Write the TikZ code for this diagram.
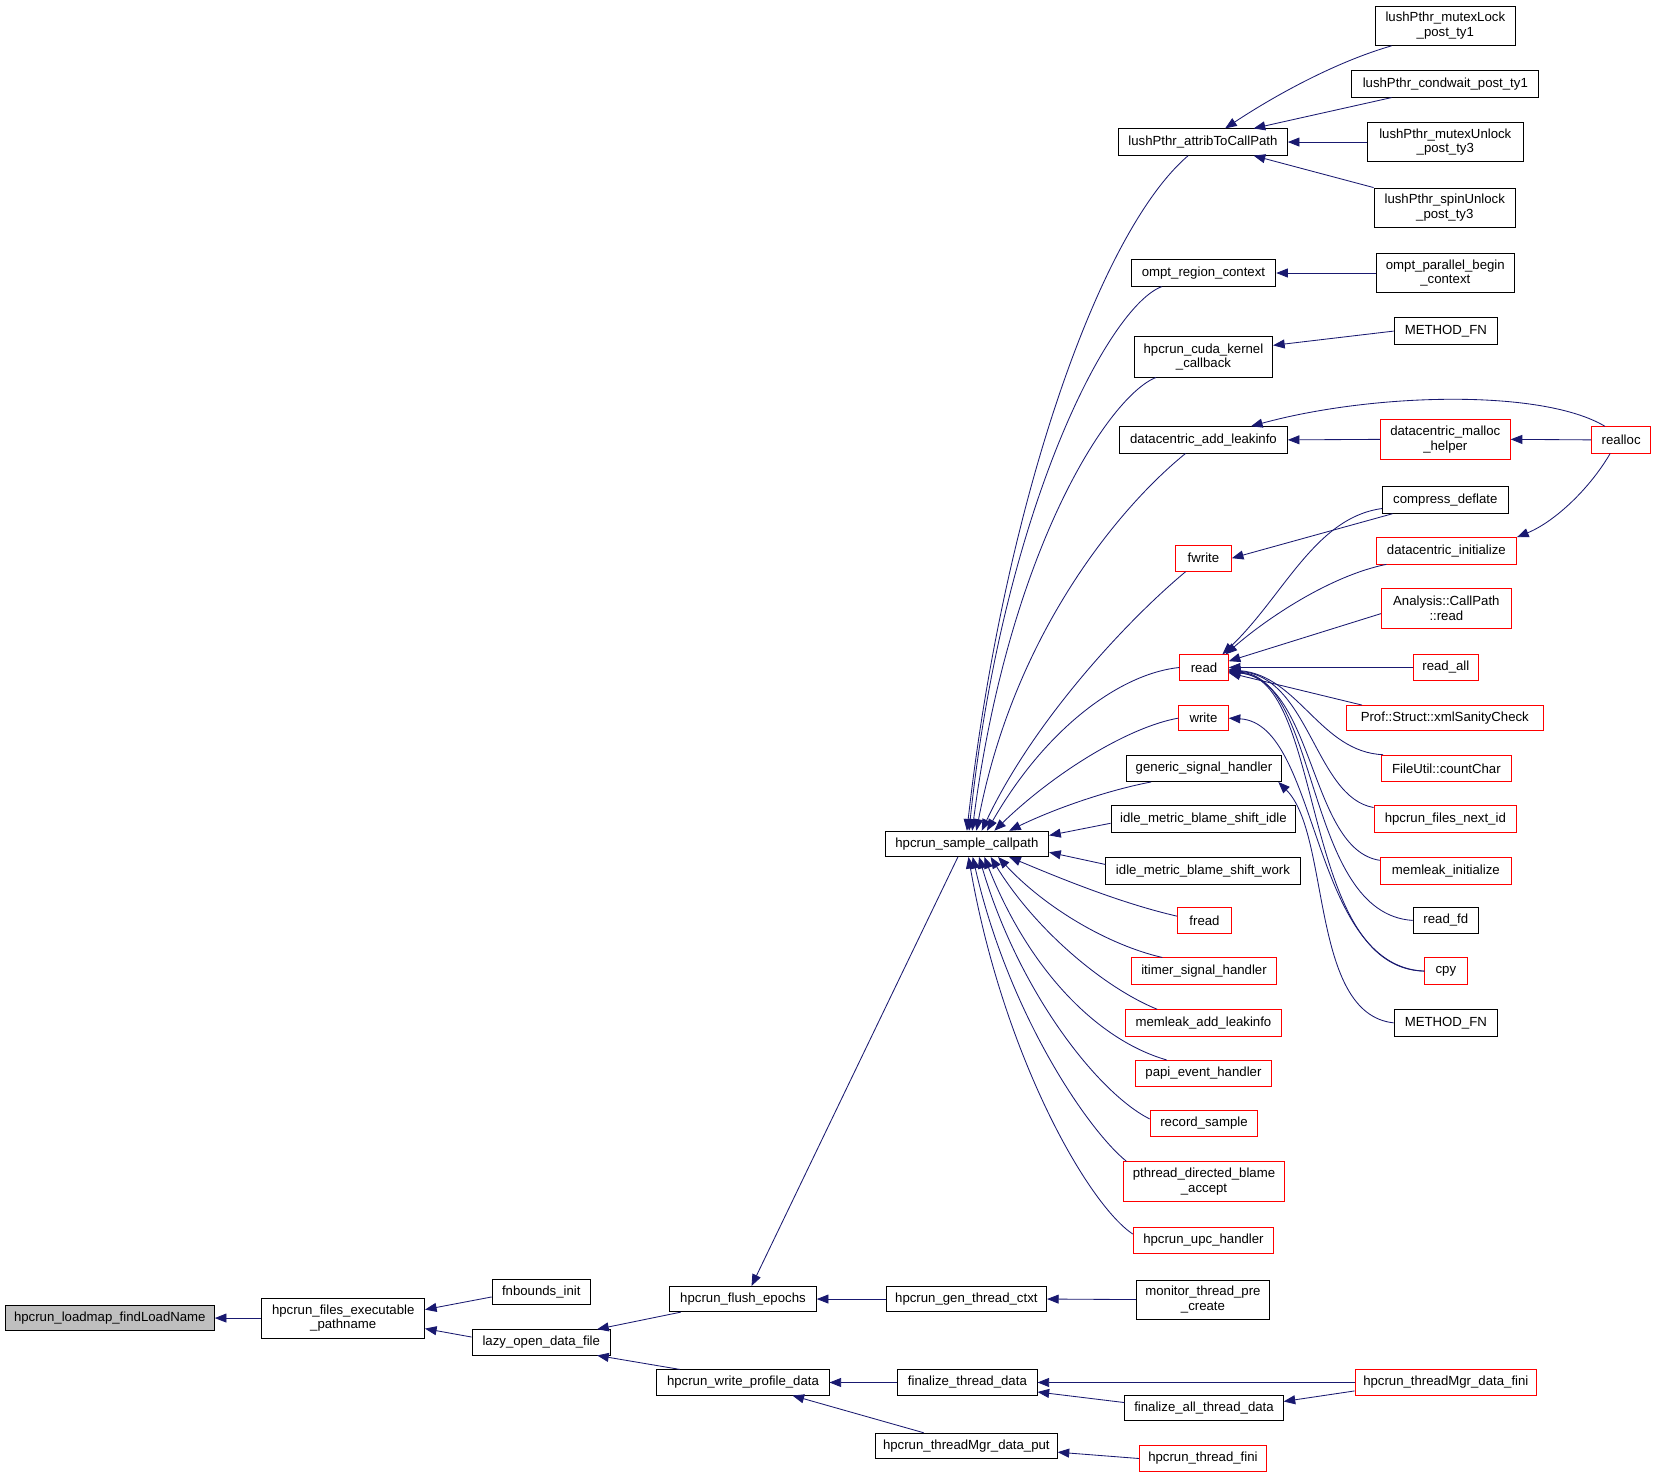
\documentclass[tikz,border=0pt]{standalone}
\usepackage{fontspec}
\setmainfont{Liberation Sans}
\usetikzlibrary{arrows.meta}
\definecolor{navy}{HTML}{191970}
\definecolor{boxred}{HTML}{FF0000}
\definecolor{rootgray}{HTML}{BFBFBF}
\newcommand\myfs{\fontsize{12.5}{14}\selectfont}
\newcommand\mybox[7]{\node[#2, minimum width={(#5)-(#3)}, minimum height={(#6)-(#4)}] (#1) at ({((#3)+(#5))/2},{((#4)+(#6))/2}) {#7};}
\tikzset{
 fbox/.style={draw=black, line width=0.8pt, inner sep=0pt, align=center, font=\myfs, fill=white},
 rbox/.style={fbox, draw=boxred},
 gbox/.style={fbox, fill=rootgray},
 conn/.style={draw=navy, line width=0.8pt, arrows={Triangle[length=11pt,width=8.5pt]-}},
}
\begin{document}
\begin{tikzpicture}[x=1pt,y=-1pt]
\useasboundingbox[fill=white] (0,0) rectangle (1568,1400.5);
% bottom chain
\mybox{loadmap}{gbox}{5}{1236}{203}{1260}{hpcrun\_loadmap\_findLoadName}
\mybox{execpath}{fbox}{248}{1229}{402}{1267}{hpcrun\_files\_executable\\\_pathname}
\mybox{fnbounds}{fbox}{466}{1211}{559}{1235}{fnbounds\_init}
\mybox{lazy}{fbox}{447}{1259}{578}{1283}{lazy\_open\_data\_file}
\mybox{flush}{fbox}{634}{1218}{773}{1242}{hpcrun\_flush\_epochs}
\mybox{writeprof}{fbox}{622}{1297}{785}{1321}{hpcrun\_write\_profile\_data}
\mybox{genctxt}{fbox}{839}{1218}{991}{1242}{hpcrun\_gen\_thread\_ctxt}
\mybox{monitor}{fbox}{1076}{1212}{1202}{1249}{monitor\_thread\_pre\\\_create}
\mybox{finthr}{fbox}{850}{1297}{982}{1321}{finalize\_thread\_data}
\mybox{finall}{fbox}{1065}{1321}{1215}{1345}{finalize\_all\_thread\_data}
\mybox{mgrfini}{rbox}{1283}{1297}{1455}{1321}{hpcrun\_threadMgr\_data\_fini}
\mybox{mgrput}{fbox}{829}{1357}{1001}{1381}{hpcrun\_threadMgr\_data\_put}
\mybox{thrfini}{rbox}{1079}{1369}{1199}{1393}{hpcrun\_thread\_fini}
\mybox{sample}{fbox}{838}{787}{993}{811}{hpcrun\_sample\_callpath}
% middle column
\mybox{lushattr}{fbox}{1059}{122}{1219}{147}{lushPthr\_attribToCallPath}
\mybox{omptreg}{fbox}{1071}{246}{1208}{271}{ompt\_region\_context}
\mybox{cuda}{fbox}{1074}{319}{1205}{357}{hpcrun\_cuda\_kernel\\\_callback}
\mybox{dcadd}{fbox}{1060}{404}{1219}{429}{datacentric\_add\_leakinfo}
\mybox{fwrite}{rbox}{1113}{516}{1166}{541}{fwrite}
\mybox{read}{rbox}{1117}{620}{1163}{644}{read}
\mybox{write}{rbox}{1116}{668}{1163}{692}{write}
\mybox{generic}{fbox}{1067}{715}{1213}{740}{generic\_signal\_handler}
\mybox{idleidle}{fbox}{1052}{763}{1227}{788}{idle\_metric\_blame\_shift\_idle}
\mybox{idlework}{fbox}{1047}{812}{1231}{837}{idle\_metric\_blame\_shift\_work}
\mybox{fread}{rbox}{1115}{859}{1166}{884}{fread}
\mybox{itimer}{rbox}{1071}{907}{1209}{932}{itimer\_signal\_handler}
\mybox{memadd}{rbox}{1066}{956}{1213}{981}{memleak\_add\_leakinfo}
\mybox{papi}{rbox}{1075}{1004}{1204}{1029}{papi\_event\_handler}
\mybox{record}{rbox}{1089}{1051}{1191}{1076}{record\_sample}
\mybox{pthread}{rbox}{1064}{1100}{1216}{1138}{pthread\_directed\_blame\\\_accept}
\mybox{upc}{rbox}{1073}{1162}{1206}{1187}{hpcrun\_upc\_handler}
% right column
\mybox{mutexlock}{fbox}{1302}{6}{1435}{43}{lushPthr\_mutexLock\\\_post\_ty1}
\mybox{condwait}{fbox}{1280}{67}{1457}{92}{lushPthr\_condwait\_post\_ty1}
\mybox{mutexunlock}{fbox}{1295}{116}{1442}{153}{lushPthr\_mutexUnlock\\\_post\_ty3}
\mybox{spinunlock}{fbox}{1301}{178}{1435}{215}{lushPthr\_spinUnlock\\\_post\_ty3}
\mybox{omptpar}{fbox}{1303}{240}{1434}{277}{ompt\_parallel\_begin\\\_context}
\mybox{methodA}{fbox}{1320}{301}{1418}{326}{METHOD\_FN}
\mybox{dcmalloc}{rbox}{1307}{397}{1430}{435}{datacentric\_malloc\\\_helper}
\mybox{realloc}{rbox}{1507}{404}{1563}{429}{realloc}
\mybox{compress}{fbox}{1309}{461}{1428}{486}{compress\_deflate}
\mybox{dcinit}{rbox}{1303}{509}{1436}{534}{datacentric\_initialize}
\mybox{analysis}{rbox}{1308}{557}{1431}{595}{Analysis::CallPath\\::read}
\mybox{readall}{rbox}{1338}{620}{1400}{644}{read\_all}
\mybox{xmlsanity}{rbox}{1275}{668}{1461}{692}{Prof::Struct::xmlSanityCheck}
\mybox{countchar}{rbox}{1308}{715}{1431}{740}{FileUtil::countChar}
\mybox{nextid}{rbox}{1301}{763}{1436}{788}{hpcrun\_files\_next\_id}
\mybox{meminit}{rbox}{1307}{812}{1431}{837}{memleak\_initialize}
\mybox{readfd}{fbox}{1338}{859}{1400}{884}{read\_fd}
\mybox{cpy}{rbox}{1349}{907}{1389}{932}{cpy}
\mybox{methodB}{fbox}{1320}{956}{1418}{981}{METHOD\_FN}

% ---- edges: bottom
\draw[conn] (loadmap.east) -- (execpath.west);
\draw[conn] ([yshift=8pt]execpath.east) -- ([yshift=-5pt]fnbounds.west);
\draw[conn] ([yshift=-10pt]execpath.east) -- ([yshift=5pt]lazy.west);
\draw[conn] ([xshift=-13pt]lazy.north east) -- ([xshift=11pt]flush.south west);
\draw[conn] ([xshift=-13pt]lazy.south east) -- ([xshift=22pt]writeprof.north west);
\draw[conn] (flush.east) -- (genctxt.west);
\draw[conn] (genctxt.east) -- (monitor.west);
\draw[conn] (writeprof.east) -- (finthr.west);
\draw[conn] ([xshift=-35pt]writeprof.south east) -- ([xshift=46pt]mgrput.north west);
\draw[conn] (finthr.east) -- (mgrfini.west);
\draw[conn] ([yshift=-9pt]finthr.east) -- ([yshift=5pt]finall.west);
\draw[conn] ([yshift=6pt]finall.east) -- ([yshift=-8pt]mgrfini.west);
\draw[conn] ([yshift=-6pt]mgrput.east) -- (thrfini.west);
\draw[conn] ([xshift=78pt]flush.north west) -- ([xshift=-8.5pt]sample.south);

% ---- edges: lush etc
\draw[conn] ([xshift=21pt]lushattr.north) .. controls (1200,95) and (1260,60) .. ([xshift=16pt]mutexlock.south west);
\draw[conn] ([xshift=48pt]lushattr.north) -- ([xshift=38pt]condwait.south west);
\draw[conn] (lushattr.east) -- (mutexunlock.west);
\draw[conn] ([xshift=48pt]lushattr.south) -- (spinunlock.north west);
\draw[conn] (omptreg.east) -- (omptpar.west);
\draw[conn] ([yshift=11pt]cuda.east) -- (methodA.west);
\draw[conn] (dcadd.east) -- (dcmalloc.west);
\draw[conn] (dcmalloc.east) -- (realloc.west);
\draw[conn] ([xshift=45pt]dcadd.north) .. controls (1300,372) and (1460,368) .. ([xshift=13pt]realloc.north west);
\draw[conn] (dcinit.north east) .. controls (1472,494) and (1505,463) .. ([xshift=18pt]realloc.south west);
\draw[conn] (fwrite.east) -- ([xshift=10pt]compress.south west);
\draw[conn] ([xshift=-6pt]read.north east) .. controls (1215,565) and (1245,490) .. ([yshift=-8pt]compress.west);
\draw[conn] ([xshift=-3pt]read.north east) .. controls (1200,585) and (1260,545) .. ([xshift=10pt]dcinit.south west);
\draw[conn] ([yshift=6pt]read.east) -- ([yshift=-5pt]analysis.west);
\draw[conn] (read.east) -- (readall.west);
\draw[conn] ([yshift=-5pt]read.east) -- ([xshift=15pt]xmlsanity.north west);
\draw[conn] ([yshift=-2pt]read.east) .. controls (1230,640) and (1250,712) .. ([xshift=2pt]countchar.north west);
\draw[conn] ([yshift=-3pt]read.east) .. controls (1240,640) and (1245,755) .. ([yshift=-2pt]nextid.north west);
\draw[conn] ([yshift=-4pt]read.east) .. controls (1245,645) and (1240,805) .. ([yshift=-3pt]meminit.north west);
\draw[conn] ([yshift=-4pt]read.east) .. controls (1250,640) and (1235,865) .. (readfd.west);
\draw[conn] ([yshift=-5pt]read.east) .. controls (1255,640) and (1230,917) .. (cpy.west);
\draw[conn] (write.east) .. controls (1250,685) and (1240,915) .. (cpy.west);
\draw[conn] ([xshift=-3pt]generic.south east) .. controls (1260,790) and (1240,960) .. (methodB.west);

% ---- edges into hpcrun_sample_callpath
\draw[conn] (sample.north) .. controls (950,480) and (1040,220) .. ([xshift=-14pt]lushattr.south);
\draw[conn] ([xshift=2pt]sample.north) .. controls (950,480) and (1050,290) .. ([xshift=-39.5pt]omptreg.south);
\draw[conn] ([xshift=5pt]sample.north) .. controls (955,520) and (1050,375) .. ([xshift=-45pt]cuda.south);
\draw[conn] ([xshift=9pt]sample.north) .. controls (960,600) and (1060,480) .. ([xshift=-17pt]dcadd.south);
\draw[conn] ([xshift=14pt]sample.north) .. controls (980,680) and (1070,585) .. ([xshift=-17pt]fwrite.south);
\draw[conn] ([xshift=19pt]sample.north) .. controls (990,690) and (1060,638) .. (read.west);
\draw[conn] ([xshift=26pt]sample.north) .. controls (1000,730) and (1070,688) .. (write.west);
\draw[conn] ([xshift=40pt]sample.north) .. controls (1000,765) and (1050,748) .. ([xshift=-50pt]generic.south);
\draw[conn] ([yshift=8pt]sample.east) -- ([yshift=-4pt]idleidle.west);
\draw[conn] ([yshift=-8pt]sample.east) -- ([yshift=6pt]idlework.west);
\draw[conn] ([xshift=40pt]sample.south) .. controls (1000,830) and (1060,855) .. ([yshift=4pt]fread.west);
\draw[conn] ([xshift=29.5pt]sample.south) .. controls (990,860) and (1050,895) .. ([xshift=30pt]itimer.north west);
\draw[conn] ([xshift=22.5pt]sample.south) .. controls (980,880) and (1045,935) .. ([xshift=30pt]memadd.north west);
\draw[conn] ([xshift=16.5pt]sample.south) .. controls (975,920) and (1040,985) .. ([xshift=30pt]papi.north west);
\draw[conn] ([xshift=11.5pt]sample.south) .. controls (965,940) and (1040,1035) .. ([yshift=4pt]record.west);
\draw[conn] ([xshift=5.5pt]sample.south) .. controls (955,960) and (1030,1070) .. ([xshift=3pt]pthread.north west);
\draw[conn] ([xshift=1.5pt]sample.south) .. controls (950,1000) and (1030,1140) .. ([yshift=6pt]upc.west);
\end{tikzpicture}
\end{document}
